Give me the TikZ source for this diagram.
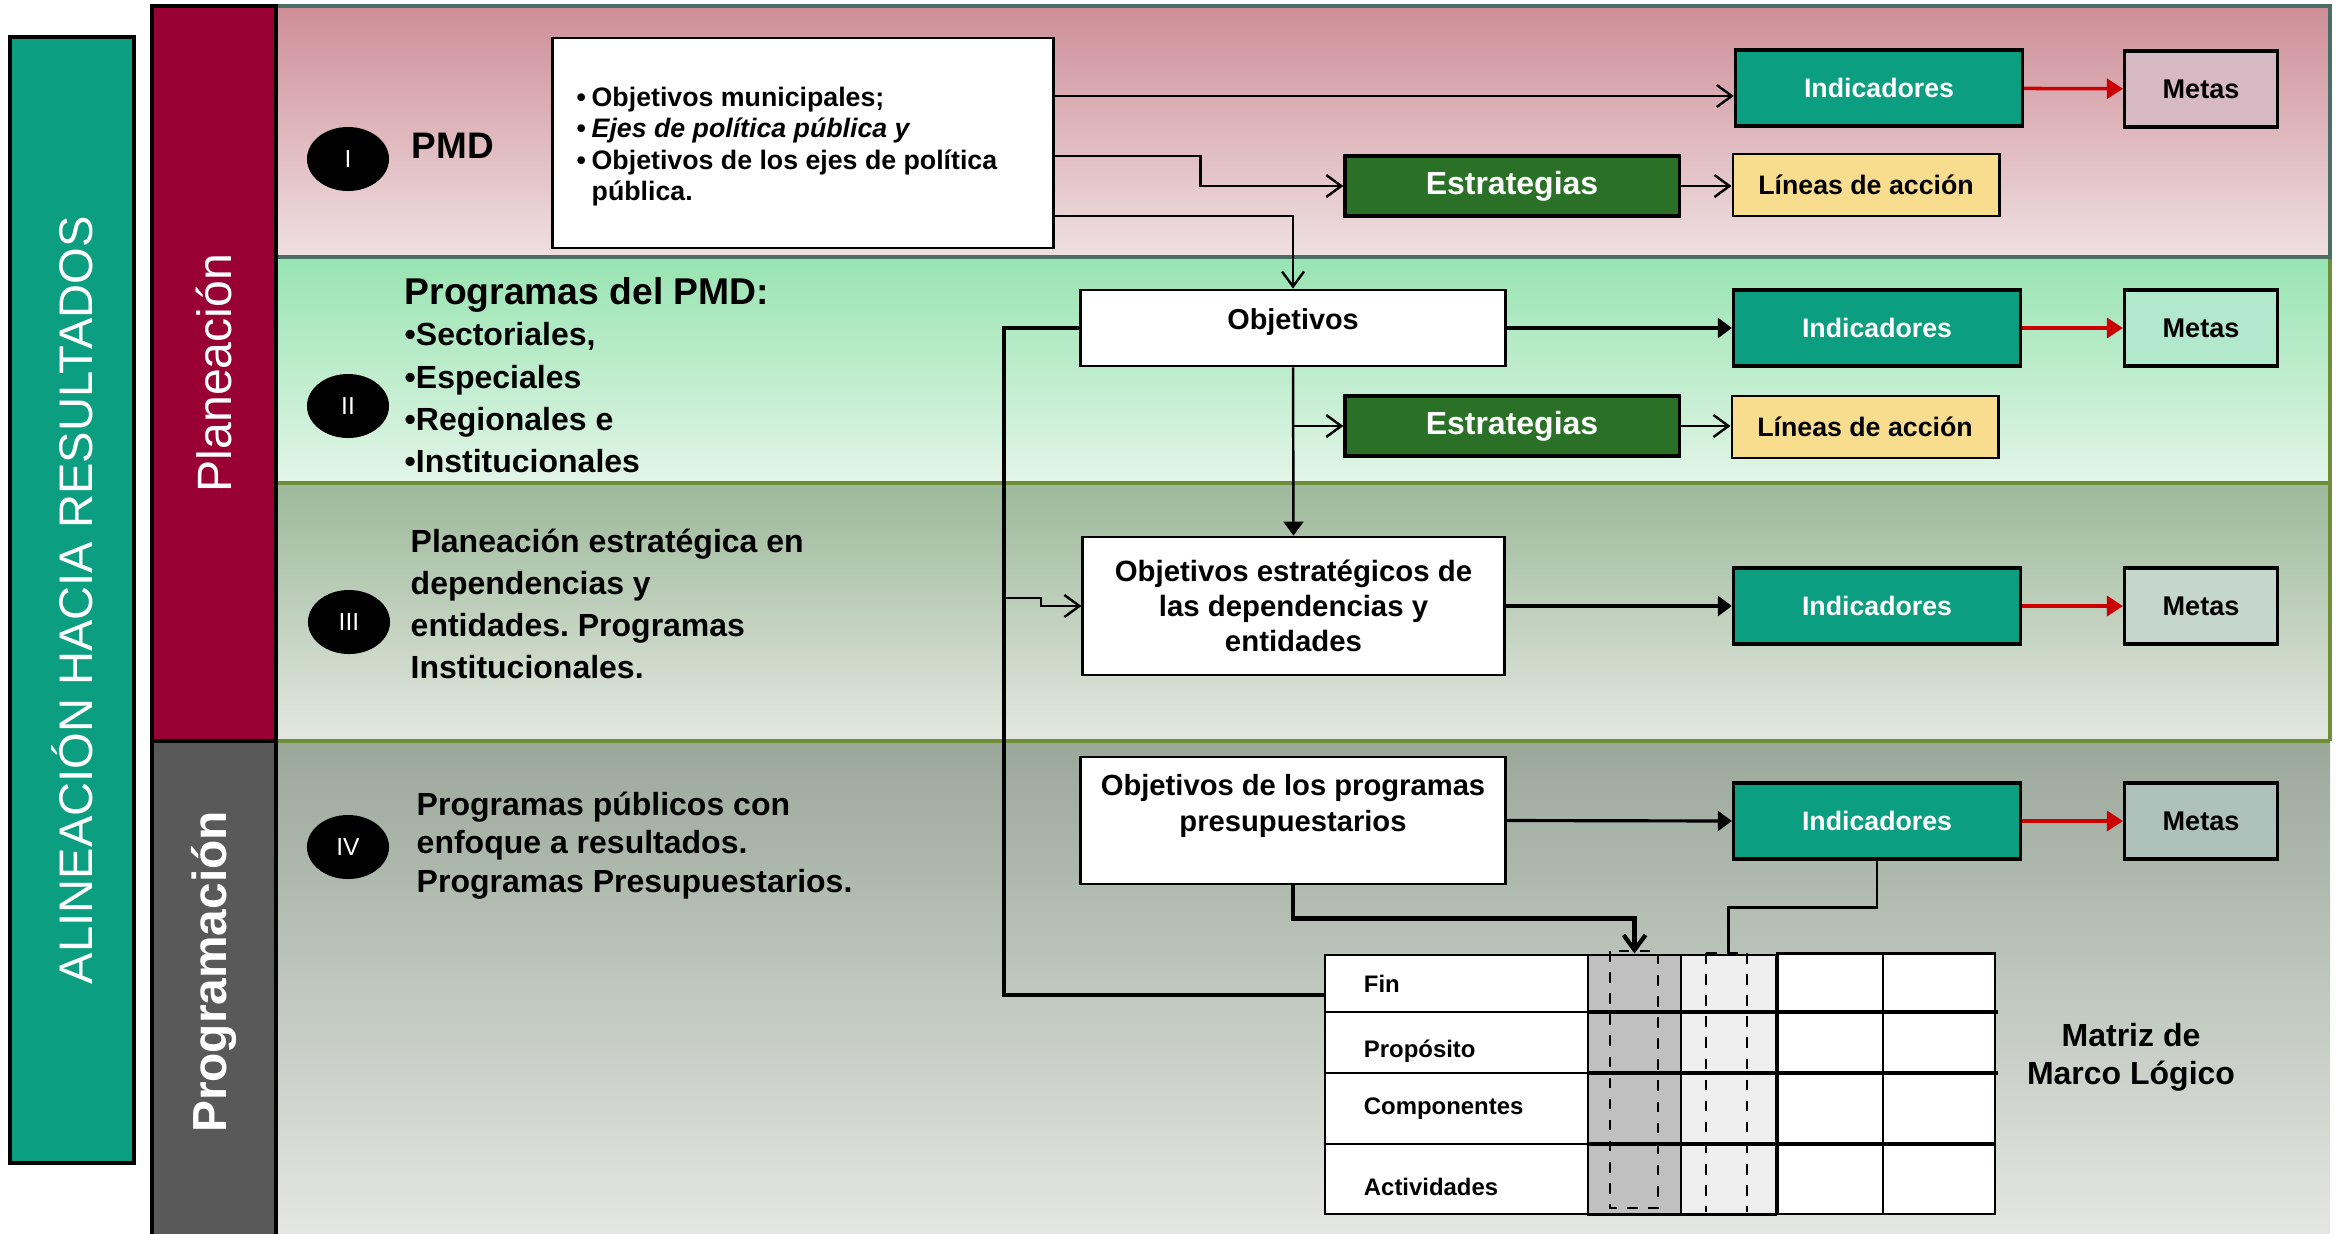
\documentclass[tikz,border=0pt]{standalone}
\usepackage{fontspec}
\setmainfont{Liberation Sans}
\usetikzlibrary{shapes.geometric,arrows.meta}
\frenchspacing

\definecolor{alinea}{RGB}{11,158,128}
\definecolor{plancol}{RGB}{153,0,51}
\definecolor{progcol}{RGB}{89,89,89}
\definecolor{estraverde}{RGB}{42,113,39}
\definecolor{lineasam}{RGB}{249,221,142}
\definecolor{rojo}{RGB}{204,0,0}
\definecolor{bandaUa}{RGB}{206,142,151}
\definecolor{bandaUb}{RGB}{239,224,226}
\definecolor{bandaDa}{RGB}{152,228,178}
\definecolor{bandaDb}{RGB}{227,245,231}
\definecolor{bandaTa}{RGB}{156,185,154}
\definecolor{bandaTb}{RGB}{227,232,223}
\definecolor{bandaCa}{RGB}{154,168,154}
\definecolor{bandaCb}{RGB}{229,231,227}
\definecolor{bordeU}{RGB}{74,110,99}
\definecolor{bordeO}{RGB}{112,142,58}
\definecolor{metaU}{RGB}{214,185,194}
\definecolor{metaD}{RGB}{178,232,204}
\definecolor{metaT}{RGB}{197,215,204}
\definecolor{metaC}{RGB}{174,193,187}
\definecolor{grisc}{RGB}{192,192,192}
\definecolor{grisl}{RGB}{239,239,239}

\begin{document}
\begin{tikzpicture}[x=0.01cm,y=-0.01cm,
  texto/.style={inner sep=0pt},
  caja/.style={draw,line width=0.8pt,fill=white,inner sep=0pt},
  ind/.style={draw,line width=0.9pt,fill=alinea,text=white,inner sep=0pt,
    minimum width=2.87cm,minimum height=0.76cm,font=\bfseries\fontsize{7.6}{9}\selectfont},
  meta/.style={draw,line width=0.9pt,inner sep=0pt,
    minimum width=1.53cm,minimum height=0.76cm,font=\bfseries\fontsize{7.7}{9}\selectfont},
  estr/.style={draw,line width=0.9pt,fill=estraverde,text=white,inner sep=0pt,
    minimum width=3.34cm,minimum height=0.6cm,font=\bfseries\fontsize{9.1}{11}\selectfont},
  linea/.style={draw,line width=0.8pt,fill=lineasam,inner sep=0pt,
    minimum width=2.66cm,minimum height=0.62cm,font=\bfseries\fontsize{7.6}{9}\selectfont},
  num/.style={ellipse,fill=black,text=white,inner sep=0pt,
    minimum width=0.82cm,minimum height=0.64cm,font=\fontsize{7}{8}\selectfont},
  fila/.style={draw,line width=0.8pt,fill=white,minimum width=2.63cm,text width=1.85cm,
    inner xsep=0.39cm,inner ysep=0pt,align=left,font=\bfseries\fontsize{6.8}{8}\selectfont},
  abre/.style={line width=0.7pt,-{Straight Barb[length=0.15cm,width=0.22cm]}},
  llena/.style={line width=0.9pt,-{Triangle[length=0.14cm,width=0.2cm]}},
  roja/.style={rojo,line width=1pt,-{Triangle[length=0.16cm,width=0.2cm]}}]
\useasboundingbox (0,0) rectangle (2346,1233);

% franjas de fondo
\shade[top color=bandaUa,bottom color=bandaUb] (276,6) rectangle (2330,257);
\shade[top color=bandaDa,bottom color=bandaDb] (276,257) rectangle (2330,483);
\shade[top color=bandaTa,bottom color=bandaTb] (276,483) rectangle (2330,741);
\shade[top color=bandaCa,bottom color=bandaCb] (276,741) rectangle (2330,1240);
\draw[bordeO,line width=1.2pt] (276,483) -- (2330,483) (276,741) -- (2330,741);
\draw[bordeO,line width=1pt] (2330,257) -- (2330,741);
\draw[bordeU,line width=1.2pt] (276,6) -- (2330,6) -- (2330,257) -- (276,257);

% barras laterales
\filldraw[fill=alinea,line width=1.3pt] (10,37) rectangle (134,1163);
\node[texto,rotate=90,text=white,font=\fontsize{13.4}{14}\selectfont] (alin) at (72,600) {ALINEACIÓN HACIA RESULTADOS};
\filldraw[fill=plancol,line width=1.1pt] (152,6) rectangle (276,741);
\node[texto,rotate=90,text=white,font=\fontsize{13.7}{14}\selectfont] (plan) at (214,373) {Planeación};
\filldraw[fill=progcol,line width=1.1pt] (152,741) rectangle (276,1240);
\node[texto,rotate=90,text=white,font=\bfseries\fontsize{13.6}{14}\selectfont] (prog) at (214,972) {Programación};

% niveles
\node[num] (nI) at (348,159) {I};
\node[num] (nII) at (348,406) {II};
\node[num] (nIII) at (349,622) {III};
\node[num] (nIV) at (348,847) {IV};

\node[texto,anchor=base west,font=\bfseries\fontsize{10.5}{12}\selectfont] (pmd) at (411,158) {PMD};
\node[texto,anchor=base west,font=\bfseries\fontsize{10.6}{12}\selectfont] (progpmd) at (404,304) {Programas del PMD:};
\node[texto,anchor=north west,align=left,font=\bfseries\fontsize{9.1}{12}\selectfont] (tipos) at (404,322)
  {•Sectoriales,\\•Especiales\\•Regionales e\\•Institucionales};
\node[texto,anchor=north west,align=left,font=\bfseries\fontsize{9.1}{12}\selectfont] (planest) at (410,528)
  {Planeación estratégica en\\dependencias y\\entidades. Programas\\Institucionales.};
\node[texto,anchor=north west,align=left,font=\bfseries\fontsize{9.1}{11}\selectfont] (progpub) at (416,791)
  {Programas públicos con\\enfoque a resultados.\\Programas Presupuestarios.};

% cajas de objetivos
\node[caja,minimum width=5cm,minimum height=2.1cm] (pmdbox) at (803,143) {};
\node[texto,anchor=north west,align=left,font=\bfseries\fontsize{7.6}{8.96}\selectfont] (pmdlist) at (576,86)
  {\makebox[0.15cm][l]{•}Objetivos municipales;\\
   \makebox[0.15cm][l]{•}\textit{Ejes de política pública y}\\
   \makebox[0.15cm][l]{•}Objetivos de los ejes de política\\
   \hspace*{0.15cm}pública.};
\node[caja,minimum width=4.24cm,minimum height=0.76cm] (obj2) at (1293,328) {};
\node[texto,font=\bfseries\fontsize{8.2}{10}\selectfont] (obj2t) at (1293,322) {Objetivos};
\node[caja,minimum width=4.21cm,minimum height=1.38cm,align=center,
  font=\bfseries\fontsize{8.35}{10}\selectfont] (obj3) at (1293.5,606)
  {Objetivos estratégicos de\\las dependencias y\\entidades};
\node[caja,minimum width=4.24cm,minimum height=1.27cm] (obj4) at (1293,820.5) {};
\node[texto,align=center,font=\bfseries\fontsize{8.3}{10}\selectfont] (obj4t) at (1293,806)
  {Objetivos de los programas\\presupuestarios};

% indicadores, metas, estrategias
\node[ind] (ind1) at (1879,88) {Indicadores};
\node[ind] (ind2) at (1877,328) {Indicadores};
\node[ind] (ind3) at (1877,606) {Indicadores};
\node[ind] (ind4) at (1877,821) {Indicadores};
\node[meta,fill=metaU] (metas1) at (2201,89) {Metas};
\node[meta,fill=metaD] (metas2) at (2201,328) {Metas};
\node[meta,fill=metaT] (metas3) at (2201,606) {Metas};
\node[meta,fill=metaC] (metas4) at (2201,821) {Metas};
\node[estr] (est1) at (1512,186) {Estrategias};
\node[estr] (est2) at (1512,426) {Estrategias};
\node[linea] (lin1) at (1866,185) {Líneas de acción};
\node[linea] (lin2) at (1865,427) {Líneas de acción};

% matriz de marco logico
\node[fila,minimum height=0.57cm] (fin) at (1456.5,983.5) {Fin};
\node[fila,minimum height=0.61cm,text height=0.35cm,text depth=0.05cm] (prop) at (1456.5,1042.5) {Propósito};
\node[fila,minimum height=0.71cm] (comp) at (1456.5,1108.5) {Componentes};
\node[fila,minimum height=0.70cm,text height=0.33cm,text depth=0cm] (act) at (1456.5,1179) {Actividades};
\node[draw,line width=0.8pt,fill=grisc,minimum width=0.93cm,minimum height=2.59cm,inner sep=0pt] (gcol) at (1634.5,1084.5) {};
\node[draw,line width=0.8pt,fill=grisl,minimum width=0.95cm,minimum height=2.59cm,inner sep=0pt] (lcol) at (1728.5,1084.5) {};
\draw[line width=0.8pt,fill=white] (lcol.north east) rectangle (1995,1214);
\draw[line width=0.8pt] (1883,955) -- (1883,1214);
\draw[line width=1pt] (1588,1012) -- (1998,1012) (1588,1073) -- (1998,1073) (1588,1144) -- (1995,1144);
\draw[dashed,line width=0.6pt] (1610,951) rectangle (1658,1208);
\draw[dashed,line width=0.6pt] (1706,953) -- (1706,1212) (1747,953) -- (1747,1212) (1706,953) -- (1747,953);
\node[texto,align=center,font=\bfseries\fontsize{9.1}{10.9}\selectfont] (mml) at (2131,1057) {Matriz de\\Marco Lógico};

% conectores
\coordinate (s1) at ([yshift=0.47cm]pmdbox.east);
\coordinate (s2) at ([yshift=-0.13cm]pmdbox.east);
\coordinate (s3) at ([yshift=-0.73cm]pmdbox.east);
\coordinate (vl) at (1004,598);
\draw[abre] (s1) -- (s1 -| ind1.west);
\draw[abre] (s2) -- ++(146,0) |- (est1.west);
\draw[abre] (s3) -| (obj2.north);
\draw[abre] (est1.east) -- (est1.east -| lin1.west);
\draw[roja] (ind1) -- (metas1);
\draw[llena] (obj2.east) -- (ind2.west);
\draw[llena,line width=0.7pt] (obj2.south) -- (obj3.north);
\draw[abre] (obj2.south |- est2.west) -- (est2.west);
\draw[abre] (est2.east) -- (est2.east -| lin2.west);
\draw[roja] (ind2) -- (metas2);
\draw[line width=1.2pt] (obj2.west) -| (vl) |- ([yshift=-0.115cm]fin.west);
\draw[abre] (vl) -- ++(37,0) |- (obj3.west);
\draw[llena] (obj3.east) -- (ind3.west);
\draw[roja] (ind3) -- (metas3);
\draw[llena] (obj4.east) -- (ind4.west);
\draw[roja] (ind4) -- (metas4);
\draw[abre,line width=1.2pt] (obj4.south) -- ++(0,33) -| (gcol.north);
\draw[line width=0.7pt] (ind4.south) -- ++(0,47) -| (lcol.north);
\end{tikzpicture}
\end{document}
